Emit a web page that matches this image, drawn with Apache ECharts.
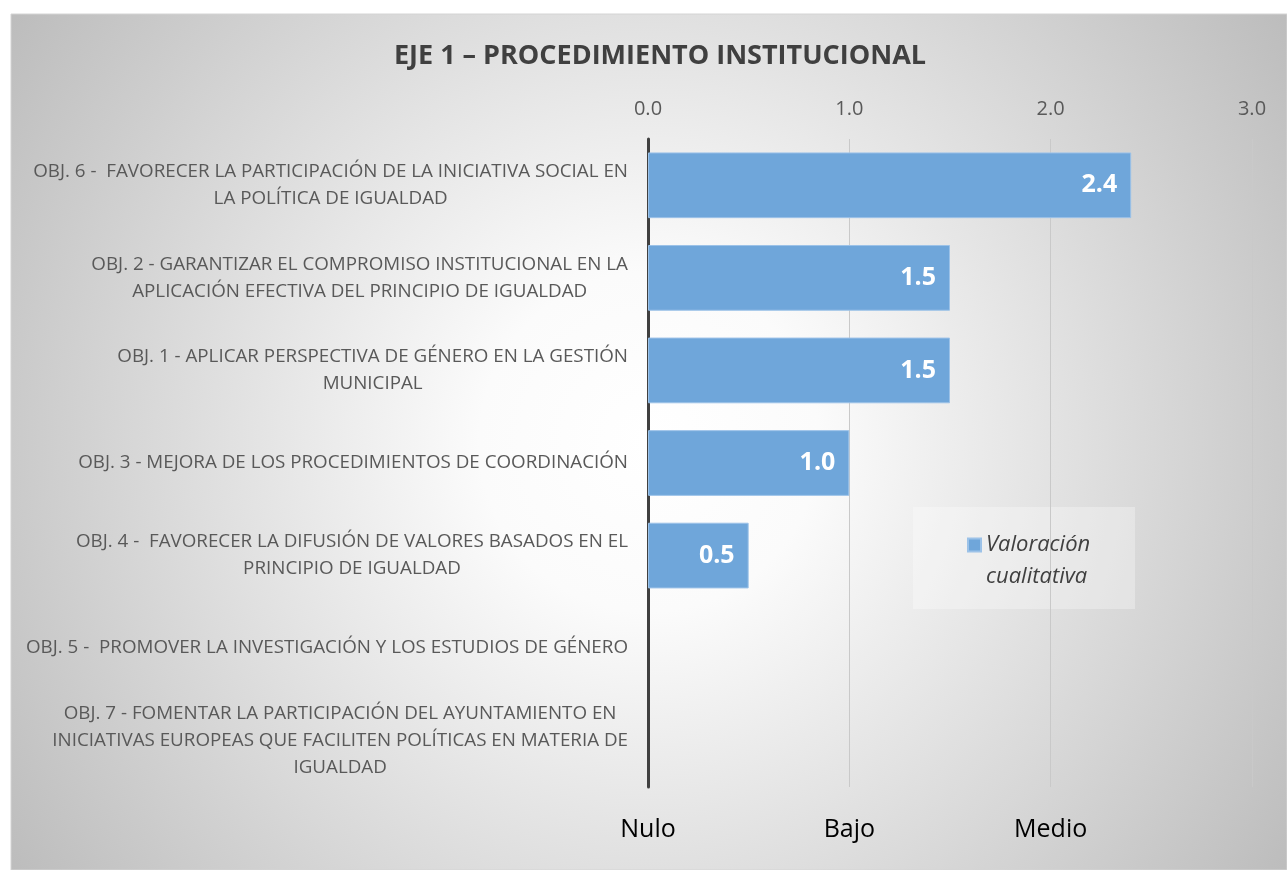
<!DOCTYPE html>
<html>
<head>
<meta charset="utf-8">
<script src="https://cdn.jsdelivr.net/npm/echarts@6/dist/echarts.min.js"></script>
<style>
html,body{margin:0;padding:0;background:#fff;}
#chart{width:1287px;height:870px;}
</style>
</head>
<body>
<div id="chart"></div>
<script>
// Categories from top to bottom as drawn
const categories = [
  "OBJ. 6 -  FAVORECER LA PARTICIPACIÓN DE LA INICIATIVA SOCIAL EN\nLA POLÍTICA DE IGUALDAD",
  "OBJ. 2 - GARANTIZAR EL COMPROMISO INSTITUCIONAL EN LA\nAPLICACIÓN EFECTIVA DEL PRINCIPIO DE IGUALDAD",
  "OBJ. 1 - APLICAR PERSPECTIVA DE GÉNERO EN LA GESTIÓN\nMUNICIPAL",
  "OBJ. 3 - MEJORA DE LOS PROCEDIMIENTOS DE COORDINACIÓN",
  "OBJ. 4 -  FAVORECER LA DIFUSIÓN DE VALORES BASADOS EN EL\nPRINCIPIO DE IGUALDAD",
  "OBJ. 5 -  PROMOVER LA INVESTIGACIÓN Y LOS ESTUDIOS DE GÉNERO",
  "OBJ. 7 - FOMENTAR LA PARTICIPACIÓN DEL AYUNTAMIENTO EN\nINICIATIVAS EUROPEAS QUE FACILITEN POLÍTICAS EN MATERIA DE\nIGUALDAD"
];
const values = [2.4, 1.5, 1.5, 1.0, 0.5, 0, 0];
const seriesName = "Valoración cualitativa";
const legendLines = ["Valoración", "cualitativa"];
const levelLabels = ["Nulo", "Bajo", "Medio", ""];
const titleText = "EJE 1 – PROCEDIMIENTO INSTITUCIONAL";

const FONT = "Open Sans";
const chart = echarts.init(document.getElementById('chart'), null, {renderer: 'canvas'});

const option = {
  animation: false,
  textStyle: {fontFamily: FONT},
  graphic: [{
    type: 'rect',
    z: -10,
    silent: true,
    shape: {x: 11, y: 14, width: 1276, height: 856},
    style: {
      fill: {
        type: 'radial', x: 0.5, y: 0.5, r: 0.9,
        colorStops: [
          {offset: 0, color: '#ffffff'},
          {offset: 0.22, color: '#fbfbfb'},
          {offset: 1, color: '#bcbcbc'}
        ]
      },
      stroke: '#d4d4d4', lineWidth: 1
    }
  }, {
    type: 'rect',
    z: -5,
    silent: true,
    shape: {x: 913, y: 507, width: 222, height: 102},
    style: {fill: 'rgba(255,255,255,0.3)'}
  }],
  title: {
    text: titleText,
    left: 655, top: 38, textAlign: 'center',
    textStyle: {fontFamily: FONT, fontWeight: 'bold', fontSize: 27, color: '#404040'}
  },
  legend: {
    data: [seriesName],
    left: 967, top: 497,
    orient: 'vertical',
    padding: 0,
    itemWidth: 13, itemHeight: 13,
    icon: 'rect',
    formatter: () => '\n' + legendLines.join('\n'),
    textStyle: {fontFamily: FONT, fontStyle: 'italic', fontSize: 22, color: '#404040', lineHeight: 32}
  },
  grid: {left: 648, right: 35, top: 139, bottom: 83, containLabel: false},
  xAxis: [{
    type: 'value', position: 'top', min: 0, max: 3, interval: 1,
    axisLine: {show: false}, axisTick: {show: false},
    axisLabel: {formatter: v => v.toFixed(1), fontSize: 20, color: '#595959', margin: 20, fontFamily: FONT},
    splitLine: {show: true, lineStyle: {color: '#c9c9c9', width: 1}}
  }, {
    type: 'value', position: 'bottom', min: 0, max: 3, interval: 1,
    axisLine: {show: false}, axisTick: {show: false},
    axisLabel: {formatter: v => levelLabels[Math.round(v)] || '', fontSize: 25, color: '#000000', margin: 30, fontFamily: FONT},
    splitLine: {show: false}
  }],
  yAxis: {
    type: 'category', inverse: true, data: categories,
    axisLine: {show: true, lineStyle: {color: '#404040', width: 3}},
    axisTick: {show: false},
    axisLabel: {
      margin: 20, align: 'right',
      formatter: v => v.split('\n').map(l => '{c|' + l + '}').join('\n'),
      rich: {c: {align: 'center', fontSize: 18.8, color: '#595959', fontFamily: FONT, lineHeight: 27}}
    }
  },
  series: [{
    name: seriesName, type: 'bar', xAxisIndex: 0,
    data: values.map(v => v > 0 ? v : {value: v, itemStyle: {borderWidth: 0, opacity: 0}}),
    barCategoryGap: '29%',
    itemStyle: {color: '#6fa6da', borderColor: '#9cc2e8', borderWidth: 1},
    label: {
      show: true, position: 'insideRight', distance: 14,
      formatter: p => p.value > 0 ? p.value.toFixed(1) : '',
      color: '#ffffff', fontWeight: 'bold', fontSize: 25, fontFamily: FONT
    }
  }]
};
chart.setOption(option);
</script>
</body>
</html>
